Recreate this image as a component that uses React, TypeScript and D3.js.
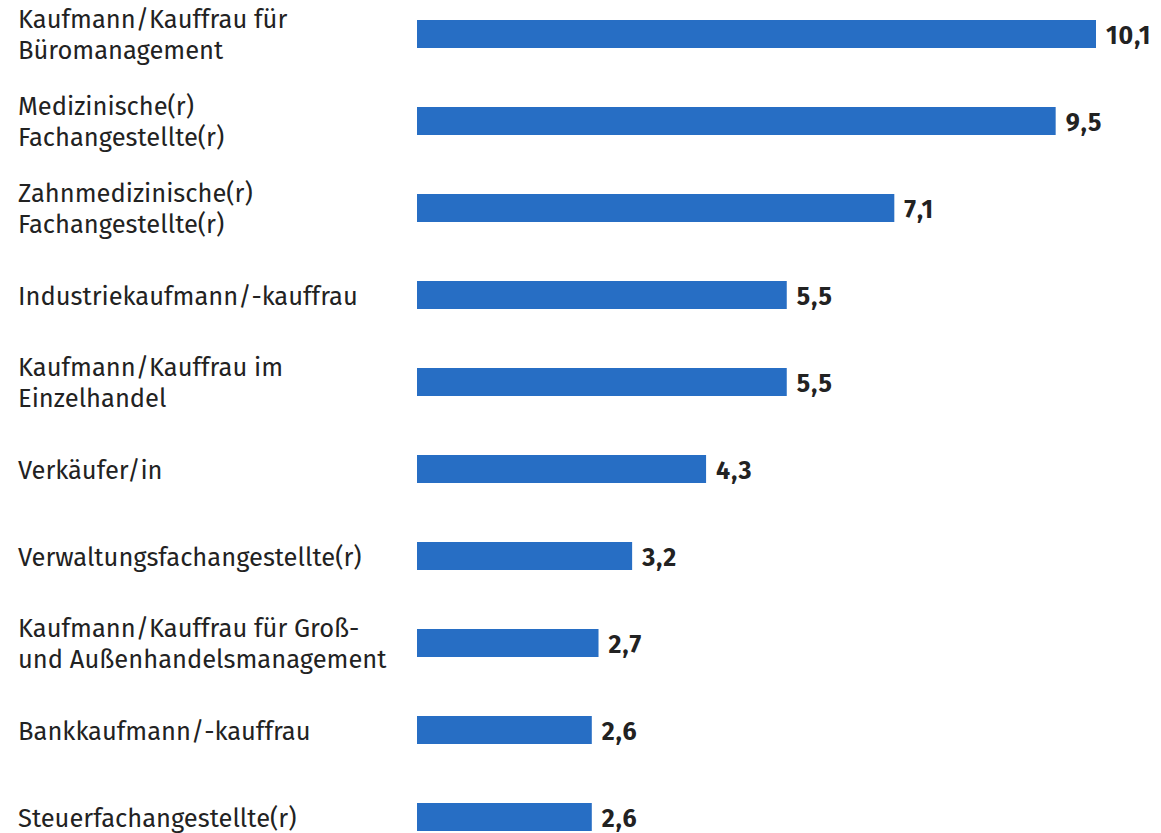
import React from "react";
import { scaleLinear, scalePoint } from "d3";

// Ausbildungsberufe, Anteil in %
const categories = [
  "Kaufmann/Kauffrau für\nBüromanagement",
  "Medizinische(r)\nFachangestellte(r)",
  "Zahnmedizinische(r)\nFachangestellte(r)",
  "Industriekaufmann/-kauffrau",
  "Kaufmann/Kauffrau im\nEinzelhandel",
  "Verkäufer/in",
  "Verwaltungsfachangestellte(r)",
  "Kaufmann/Kauffrau für Groß-\nund Außenhandelsmanagement",
  "Bankkaufmann/-kauffrau",
  "Steuerfachangestellte(r)",
];
const values = [10.1, 9.5, 7.1, 5.5, 5.5, 4.3, 3.2, 2.7, 2.6, 2.6];

const W = 1161;
const H = 833;
const barLeft = 417;
const barH = 28;
const lineH = 31;

const App = () => {
  const x = scaleLinear().domain([0, 10.1]).range([barLeft, 1096]);
  const y = scalePoint<string>().domain(categories).range([34, 817]);
  const fmt = (v: number) => v.toFixed(1).replace(".", ",");

  return (
    <svg
      width={W}
      height={H}
      style={{ position: "absolute", left: 0, top: 0, background: "#fff" }}
      fontFamily="'Fira Sans', 'Noto Sans', sans-serif"
    >
      {categories.map((cat, i) => {
        const cy = y(cat) as number;
        const lines = cat.split("\n");
        return (
          <g key={cat}>
            <text x={18} fontSize={25.5} fill="#222">
              {lines.map((l, j) => (
                <tspan
                  key={j}
                  x={18}
                  y={cy + 9.5 + (j - (lines.length - 1) / 2) * lineH}
                >
                  {l}
                </tspan>
              ))}
            </text>
            <rect
              x={barLeft}
              y={cy - barH / 2}
              width={x(values[i]) - barLeft}
              height={barH}
              fill="#276ec4"
            />
            <text
              x={x(values[i]) + 10}
              y={cy + 10}
              fontSize={25}
              fontWeight="bold"
              letterSpacing={1}
              fill="#222"
            >
              {fmt(values[i])}
            </text>
          </g>
        );
      })}
    </svg>
  );
};

export default App;
